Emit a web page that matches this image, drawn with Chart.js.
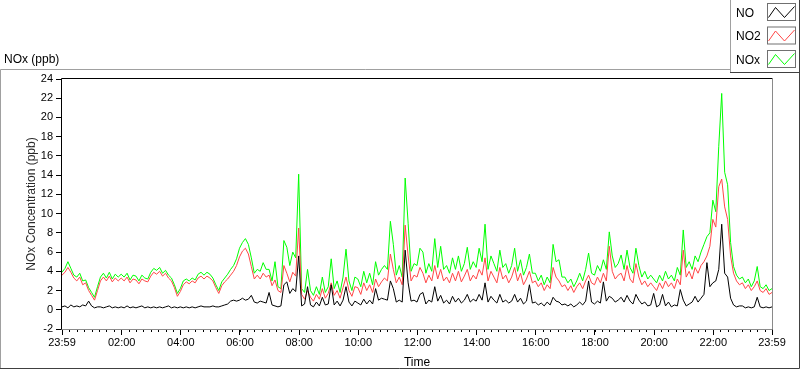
<!DOCTYPE html>
<html><head><meta charset="utf-8">
<script src="https://cdn.jsdelivr.net/npm/chart.js@4.4.1/dist/chart.umd.min.js"></script>
<style>html,body{margin:0;padding:0;background:#fff;}canvas{display:block;}</style>
</head><body>
<canvas id="c" width="800" height="369"></canvas>
<script>
// ---- data ----
const seriesNames = ['NO', 'NO2', 'NOx'];
const sampleMinutes = 6; // one reading every 6 minutes, starting 23:59

const noValues = [
 0.3,0.4,0.2,0.5,0.3,0.4,0.3,0.5,0.4,0.9,
 0.4,0.2,0.3,0.3,0.2,0.3,0.4,0.2,0.3,0.2,
 0.3,0.2,0.4,0.2,0.3,0.2,0.3,0.4,0.2,0.3,
 0.2,0.3,0.2,0.3,0.2,0.3,0.4,0.2,0.3,0.2,
 0.3,0.2,0.3,0.2,0.3,0.2,0.3,0.4,0.3,0.3,
 0.3,0.4,0.3,0.3,0.4,0.5,0.6,0.9,1.0,0.9,
 1.0,1.2,1.0,1.1,1.5,0.8,0.7,0.9,0.8,0.7,
 1.8,0.5,0.4,0.3,0.4,2.6,2.9,1.7,2.2,1.9,
 5.6,0.4,0.6,2.4,0.5,0.3,0.8,0.4,1.3,0.5,
 0.6,2.6,0.5,0.9,0.4,1.0,2.4,0.8,0.4,0.9,
 0.7,0.5,1.1,0.6,1.0,0.6,2.2,1.0,1.2,1.1,
 1.0,3.0,2.2,0.8,1.0,0.8,6.2,2.8,0.9,1.0,
 0.8,1.6,1.8,0.6,1.0,0.8,2.4,0.9,1.5,0.7,
 1.0,0.6,1.4,0.8,1.2,0.7,1.0,1.6,0.8,1.1,
 0.9,1.6,1.0,2.8,0.8,1.4,1.0,0.7,1.6,0.8,
 1.0,0.7,0.9,1.6,0.8,1.2,0.6,0.9,2.6,0.7,
 0.8,0.5,0.7,0.4,0.8,0.5,1.3,0.9,0.8,0.5,
 0.6,0.4,0.6,0.3,0.5,0.8,0.5,0.9,3.0,0.8,
 0.6,0.9,0.7,2.9,0.9,1.4,1.2,0.8,1.0,1.3,
 0.8,1.5,0.9,0.6,1.6,1.0,0.6,0.8,0.4,0.5,
 1.7,0.3,0.5,1.6,0.4,0.8,0.3,0.5,0.4,2.1,
 1.0,0.4,0.6,0.8,1.4,0.8,1.2,1.6,4.9,2.4,
 2.8,3.0,4.2,8.9,3.8,3.4,1.2,0.5,0.3,0.4,
 0.4,0.2,0.3,0.2,0.3,1.3,0.3,0.2,0.3,0.2,0.3
];
const no2Values = [
 3.6,3.9,4.4,3.9,3.3,3.0,3.4,2.6,2.8,2.0,
 1.5,1.0,2.0,3.0,3.4,3.0,3.5,2.9,3.3,3.0,
 3.3,3.0,3.4,2.8,3.2,3.1,2.7,3.2,3.0,2.9,
 3.5,3.9,3.7,4.0,3.5,3.8,3.3,3.0,2.3,1.4,
 1.9,2.6,2.9,2.7,3.0,2.8,3.3,3.5,3.2,3.5,
 3.3,3.0,2.3,1.7,2.5,2.9,3.2,3.6,4.0,4.6,
 5.5,6.1,6.4,5.8,4.5,3.2,3.6,3.2,3.8,3.4,
 3.6,2.5,3.1,2.0,1.8,4.6,3.8,2.9,3.9,3.5,
 8.5,1.6,1.1,2.0,1.3,0.9,1.6,1.1,2.2,1.2,
 1.7,2.8,1.5,2.0,1.2,2.3,3.4,2.0,1.4,2.4,
 2.3,1.6,2.8,2.0,2.6,1.8,3.2,2.4,2.9,3.3,
 3.0,5.8,4.2,2.8,3.4,2.6,8.8,5.6,3.0,3.6,
 3.4,4.4,3.8,2.8,3.6,3.0,4.6,3.2,4.2,3.0,
 3.4,2.8,3.8,3.0,4.0,2.9,3.5,4.2,3.0,3.6,
 3.2,4.2,3.6,5.4,3.0,4.0,3.4,2.8,4.4,3.2,
 3.6,2.8,3.4,4.4,3.0,3.8,2.6,3.2,4.0,2.8,
 3.0,2.4,2.8,2.0,2.6,2.2,4.4,3.4,3.0,2.4,
 2.6,2.0,2.5,1.8,2.4,2.8,2.2,3.0,3.6,2.8,
 2.6,3.4,2.8,3.8,3.0,6.6,4.0,3.2,3.6,3.8,
 3.0,4.6,3.2,2.8,4.8,3.4,2.6,3.0,2.4,2.8,
 2.4,2.0,2.8,2.2,3.0,2.4,2.8,2.2,3.2,2.6,
 6.2,3.4,4.0,3.2,4.4,3.8,4.6,5.0,5.6,6.6,
 9.4,8.6,12.8,13.6,10.7,9.4,5.6,3.8,3.0,2.6,
 2.8,2.2,2.6,2.0,2.4,3.0,2.0,1.8,2.2,1.6,1.8
];
const noxValues = [
 3.9,4.3,5.0,4.3,3.6,3.4,3.8,3.0,3.1,2.3,
 1.8,1.3,2.4,3.4,3.8,3.3,3.9,3.2,3.7,3.4,
 3.7,3.4,3.8,3.1,3.6,3.5,3.0,3.6,3.3,3.2,
 3.9,4.3,4.1,4.4,3.8,4.1,3.6,3.3,2.6,1.7,
 2.2,3.0,3.2,3.0,3.3,3.1,3.7,3.9,3.6,3.9,
 3.7,3.3,2.6,2.0,2.9,3.3,3.7,4.2,4.6,5.3,
 6.4,7.0,7.4,6.8,5.4,3.8,4.2,4.0,4.9,4.2,
 4.2,3.0,5.0,2.4,2.2,7.2,6.5,4.6,6.0,5.4,
 14.1,2.2,1.8,4.2,2.0,1.5,2.4,1.6,3.4,1.8,
 2.4,5.3,2.2,3.0,1.8,3.4,6.3,3.0,2.0,3.4,
 3.2,2.4,4.0,2.8,3.8,2.6,5.0,3.6,4.2,4.6,
 4.2,9.2,6.8,3.6,4.6,3.4,13.7,9.0,4.0,4.8,
 4.6,6.4,6.0,3.8,4.8,4.0,7.4,4.4,6.6,4.2,
 4.6,3.8,5.4,4.2,5.6,4.0,4.8,6.5,4.2,5.0,
 4.4,6.4,5.0,8.9,4.2,5.6,4.8,4.0,6.2,4.4,
 4.8,3.8,4.6,6.4,4.0,5.2,3.6,4.4,5.8,3.8,
 3.8,3.0,3.6,2.6,3.4,2.8,6.8,5.0,5.2,3.4,
 3.4,2.8,3.2,2.4,3.0,3.8,3.0,4.2,5.9,3.8,
 3.6,4.6,4.0,5.2,4.2,8.1,5.6,4.4,4.8,5.7,
 4.2,6.2,4.4,3.8,6.4,4.6,3.4,4.0,3.2,3.6,
 3.2,2.8,3.6,3.0,4.0,3.2,3.6,3.0,4.4,3.6,
 8.3,4.4,5.0,4.2,5.6,5.0,6.0,6.8,7.6,8.0,
 11.4,10.2,17.0,22.5,14.3,13.0,7.0,4.5,3.6,3.2,
 3.4,2.8,3.2,2.4,3.0,4.5,2.4,2.2,2.6,2.0,2.2
];

const xTickMinutes = [0,121,241,361,481,601,721,841,961,1081,1201,1321,1440];
const xTickLabels  = ['23:59','02:00','04:00','06:00','08:00','10:00','12:00','14:00','16:00','18:00','20:00','22:00','23:59'];
const yTickValues  = [-2,0,2,4,6,8,10,12,14,16,18,20,22,24];
const xMinorStep = 15;

// ---- chart ----
const FONT = '"Liberation Sans", Arial, sans-serif';
const colors = ['#000000', '#ff4646', '#00ff00'];
const allValues = [noValues, no2Values, noxValues];
const toPoints = arr => arr.map((v, i) => ({ x: i * sampleMinutes, y: v }));

const decor = {
  id: 'decor',
  beforeDraw(chart) {
    const c = chart.ctx; c.save(); c.fillStyle = '#fff'; c.fillRect(0, 0, chart.width, chart.height); c.restore();
  },
  afterDraw(chart) {
    const c = chart.ctx, a = chart.chartArea, xs = chart.scales.x;
    c.save();
    c.lineWidth = 1;
    // minor x ticks
    c.strokeStyle = '#000';
    c.beginPath();
    for (let m = 0; m <= xs.max; m += xMinorStep) {
      const px = Math.round(xs.getPixelForValue(m)) + 0.5;
      c.moveTo(px, a.bottom); c.lineTo(px, a.bottom + 3);
    }
    c.stroke();
    // plot border
    const L = Math.round(a.left) - 0.5, T = Math.round(a.top) - 0.5, R = Math.round(a.right) + 0.5, B = Math.round(a.bottom) + 0.5;
    c.strokeStyle = '#000';
    c.beginPath(); c.moveTo(L, B); c.lineTo(L, T); c.lineTo(R, T); c.stroke();
    c.strokeStyle = '#8a8a8a';
    c.beginPath(); c.moveTo(R, T); c.lineTo(R, B); c.lineTo(L, B); c.stroke();
    // outer frame
    c.strokeStyle = '#a0a0a0';
    c.beginPath(); c.moveTo(0.5, 368); c.lineTo(0.5, 69.5); c.lineTo(730, 69.5); c.stroke();
    c.beginPath(); c.moveTo(730.5, 0); c.lineTo(730.5, 72); c.stroke();
    c.strokeStyle = '#404040';
    c.beginPath(); c.moveTo(0, 368.5); c.lineTo(799.5, 368.5); c.lineTo(799.5, 0); c.stroke();
    c.beginPath(); c.moveTo(730, 72.5); c.lineTo(800, 72.5); c.stroke();
    // titles
    c.fillStyle = '#000';
    c.font = '12px ' + FONT;
    c.textBaseline = 'alphabetic';
    c.textAlign = 'left';
    c.fillText('NOx (ppb)', 4, 63);
    c.textAlign = 'center';
    c.fillText('Time', (a.left + a.right) / 2, 366);
    c.save();
    c.translate(35, (a.top + a.bottom) / 2);
    c.rotate(-Math.PI / 2);
    c.fillStyle = '#2a2a2a';
    c.fillText('NOx Concentration (ppb)', 0, 0);
    c.restore();
    // legend
    const rowsY = [3.5, 27, 50.5];
    seriesNames.forEach((n, i) => {
      c.fillStyle = '#000'; c.textAlign = 'left';
      c.fillText(n, 736, rowsY[i] + 13);
      const bx = 767.5, by = rowsY[i], bw = 28, bh = 17;
      c.strokeStyle = '#707070'; c.strokeRect(bx, by, bw, bh);
      c.strokeStyle = colors[i];
      c.beginPath();
      c.moveTo(bx + 1, by + 14); c.lineTo(bx + 8, by + 4); c.lineTo(bx + 17, by + 14); c.lineTo(bx + 27, by + 3);
      c.stroke();
    });
    c.restore();
  }
};

new Chart(document.getElementById('c'), {
  type: 'line',
  data: {
    datasets: seriesNames.map((n, i) => ({
      label: n,
      data: toPoints(allValues[i]),
      borderColor: colors[i],
      backgroundColor: colors[i],
      borderWidth: 1,
      pointRadius: 0,
      tension: 0,
      fill: false
    }))
  },
  options: {
    responsive: false,
    animation: false,
    events: [],
    layout: { padding: { left: 0, top: 79, right: 28, bottom: 0 } },
    plugins: { legend: { display: false }, tooltip: { enabled: false } },
    scales: {
      x: {
        type: 'linear',
        min: 0, max: 1440,
        afterFit: s => { s.height = 40; },
        afterBuildTicks: s => { s.ticks = xTickMinutes.map(v => ({ value: v })); },
        ticks: {
          autoSkip: false, maxRotation: 0, minRotation: 0, padding: 1,
          color: '#000', font: { family: FONT, size: 11 },
          callback: (v) => xTickLabels[xTickMinutes.indexOf(v)]
        },
        grid: { drawOnChartArea: false, drawTicks: true, tickLength: 6, tickColor: '#000', color: '#000' },
        border: { display: false }
      },
      y: {
        min: -2, max: 24,
        afterFit: s => { s.width = 62; },
        afterBuildTicks: s => { s.ticks = yTickValues.map(v => ({ value: v })); },
        ticks: { padding: 3, color: '#000', font: { family: FONT, size: 11 } },
        grid: { drawOnChartArea: false, drawTicks: true, tickLength: 6, tickColor: '#000', color: '#000' },
        border: { display: false }
      }
    }
  },
  plugins: [decor]
});
</script>
</body></html>
